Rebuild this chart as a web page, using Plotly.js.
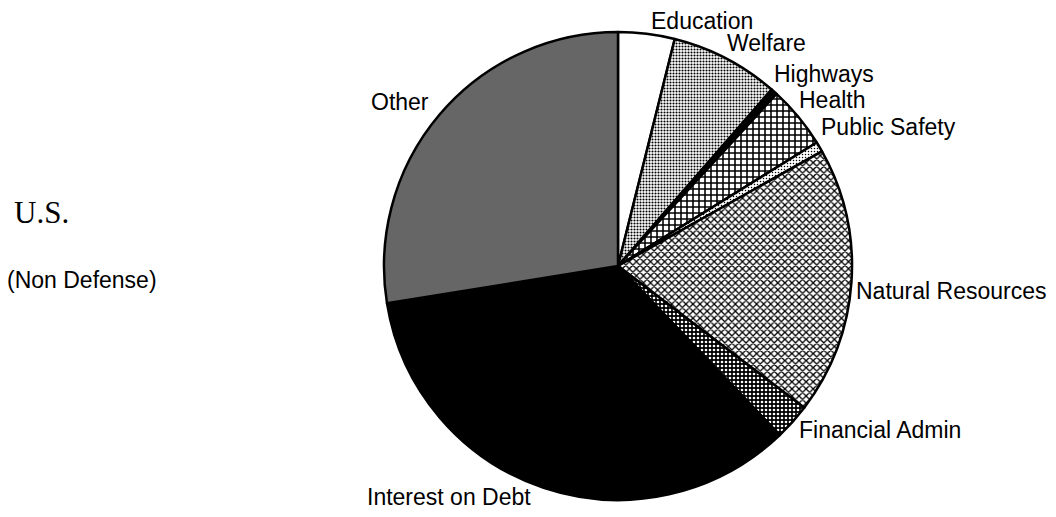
<!DOCTYPE html>
<html>
<head>
<meta charset="utf-8">
<script src="https://cdn.plot.ly/plotly-3.0.1.min.js"></script>
<style>html,body{margin:0;padding:0;background:#fff;}#chart{width:1056px;height:517px;}</style>
</head>
<body>
<div id="chart"></div>
<script>
// ---- data ----
const categories = ["Education", "Welfare", "Highways", "Health", "Public Safety",
  "Natural Resources", "Financial Admin", "Interest on Debt", "Other"];
const shares = [3.9, 7.5, 0.45, 4.3, 0.7, 18.5, 2.5, 34.6, 27.55];
const title = "U.S.";
const subtitle = "(Non Defense)";

// ---- styling (per slice) ----
const W = 1056, H = 517;
const px = x => x / W;
const py = y => 1 - y / H;

const fills = ["#ffffff", "#ffffff", "#000000", "#ffffff", "#ffffff", "#ffffff", "#000000", "#000000", "#000000"];
const pShape = ["", ".", "", "+", ".", "x", ".", "", "."];
const pFg = ["#000", "#000", "#000", "#000", "#000", "#000", "#fff", "#000", "#fff"];
const pBg = ["#fff", "#fff", "#000", "#fff", "#fff", "#fff", "#000", "#000", "#000"];
const pSize = [4, 3, 4, 6, 3, 5, 4, 4, 2];
const pSolid = [0.3, 0.4, 0.3, 0.45, 0.2, 0.45, 0.35, 0.3, 0.45];

// label placement (pixel positions of left edge / vertical middle)
const labelPos = [
  [650, 21], [726, 43], [773, 74], [798, 100], [820, 127],
  [855, 291], [798, 430], [366, 497], [370, 102]
];

const labelFont = {family: "Liberation Sans, Arial, sans-serif", size: 23, color: "#000"};

const annotations = categories.map((c, i) => ({
  text: c, xref: "paper", yref: "paper",
  x: px(labelPos[i][0]), y: py(labelPos[i][1]),
  xanchor: "left", yanchor: "middle", showarrow: false,
  font: labelFont, borderpad: 0
}));
annotations.push({
  text: title, xref: "paper", yref: "paper", x: px(12), y: py(212),
  xanchor: "left", yanchor: "middle", showarrow: false,
  font: {family: "Liberation Serif, Times New Roman, serif", size: 31, color: "#000"}
});
annotations.push({
  text: subtitle, xref: "paper", yref: "paper", x: px(5), y: py(280),
  xanchor: "left", yanchor: "middle", showarrow: false,
  font: {family: "Liberation Sans, Arial, sans-serif", size: 23, color: "#000"}
});

const trace = {
  type: "pie",
  labels: categories,
  values: shares,
  sort: false,
  direction: "clockwise",
  rotation: 0,
  textinfo: "none",
  hoverinfo: "label+percent",
  domain: {x: [px(384), px(852)], y: [py(500), py(32)]},
  marker: {
    colors: fills,
    line: {color: "#000", width: 2.5},
    pattern: {shape: pShape, fgcolor: pFg, bgcolor: pBg, size: pSize, solidity: pSolid, fillmode: "replace"}
  }
};

const layout = {
  width: W, height: H,
  margin: {l: 0, r: 0, t: 0, b: 0},
  paper_bgcolor: "#fff",
  showlegend: false,
  annotations: annotations
};

Plotly.newPlot("chart", [trace], layout, {displayModeBar: false, staticPlot: true});
</script>
</body>
</html>
